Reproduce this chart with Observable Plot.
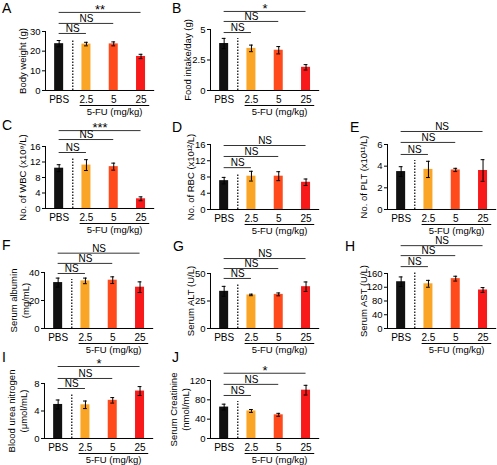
<!DOCTYPE html>
<html><head><meta charset="utf-8">
<script src="https://cdn.jsdelivr.net/npm/d3@7"></script>
<script src="https://cdn.jsdelivr.net/npm/@observablehq/plot@0.6"></script>
<style>
body{margin:0;background:#fff;}
#chart{position:relative;width:497px;height:465px;overflow:hidden;font-family:"Liberation Sans",Arial,sans-serif;background:#fff;}
#chart svg{position:absolute;}
.letter{position:absolute;font-size:14px;line-height:14px;color:#000;}
</style></head><body><div id="chart"></div>
<script>
// ---- data ----
const groups = ["PBS", "2.5", "5", "25"];
const doseLabel = "5-FU (mg/kg)";

const bodyWeight = [23.8, 23.6, 23.7, 17.3];
const bodyWeightErr = [1.6, 0.9, 1.0, 1.1];
const foodIntake = [3.85, 3.45, 3.3, 1.9];
const foodIntakeErr = [0.42, 0.27, 0.3, 0.22];
const wbc = [10.4, 11.2, 10.8, 2.5];
const wbcErr = [0.9, 1.4, 0.9, 0.5];
const rbc = [7.1, 8.2, 8.2, 6.7];
const rbcErr = [0.8, 1.2, 1.1, 0.8];
const plt = [3.5, 3.7, 3.65, 3.6];
const pltErr = [0.45, 0.75, 0.15, 1.0];
const albumin = [32.8, 34, 34.5, 29.5];
const albuminErr = [3.2, 2, 2.4, 3.8];
const alt = [33.8, 30.5, 31, 38];
const altErr = [4.5, 0.7, 1.3, 4.3];
const ast = [136, 130, 145, 112];
const astErr = [14, 10, 7, 7];
const bun = [4.95, 4.9, 5.55, 6.9];
const bunErr = [0.65, 0.55, 0.4, 0.65];
const creatinine = [65, 57, 49, 100];
const creatinineErr = [6, 3, 3, 10];

// significance labels (PBS vs 2.5, PBS vs 5, PBS vs 25) and bracket heights (y units)
const sigA = ["NS", "NS", "**"];   const sigLevelsA = [29, 34.1, 39.7];
const sigB = ["NS", "NS", "*"];    const sigLevelsB = [4.75, 5.66, 6.48];
const sigC = ["NS", "NS", "***"];  const sigLevelsC = [14.45, 17.8, 20.1];
const sigD = ["NS", "NS", "NS"];   const sigLevelsD = [10.3, 13.05, 15.75];
const sigE = ["NS", "NS", "NS"];   const sigLevelsE = [5.08, 6.19, 7.2];
const sigF = ["NS", "NS", "NS"];   const sigLevelsF = [39.3, 46.5, 53.8];
const sigG = ["NS", "NS", "NS"];   const sigLevelsG = [45.5, 54.5, 63.6];
const sigH = ["NS", "NS", "NS"];   const sigLevelsH = [180, 212, 241];
const sigI = ["NS", "NS", "*"];    const sigLevelsI = [7.27, 8.73, 10.47];
const sigJ = ["NS", "NS", "*"];    const sigLevelsJ = [89, 112, 135];

// y axis ticks
const ticksA = [0, 10, 20, 30];
const ticksB = [0, 2.5, 5];
const ticksC = [0, 4, 8, 12, 16];
const ticksD = [0, 4, 8, 12, 16];
const ticksE = [0, 2, 4, 6];
const ticksF = [0, 20, 40];
const ticksG = [0, 25, 50];
const ticksH = [0, 40, 80, 120, 160];
const ticksI = [0, 4, 8];
const ticksJ = [0, 40, 80, 120];

// ---- styles / layout ----
const colors = ["#111111", "#fba526", "#ff4a1c", "#f81a1a"];
const FONT = "Liberation Sans, Arial, sans-serif";

const panels = [
  {id: "A", values: bodyWeight, errors: bodyWeightErr, sig: sigA, levels: sigLevelsA, ticks: ticksA,
   label: "Body weight (g)", ax: 45, base: 90, top: 31, labelDx: -23, letter: [2, 1]},
  {id: "B", values: foodIntake, errors: foodIntakeErr, sig: sigB, levels: sigLevelsB, ticks: ticksB,
   label: "Food intake/day (g)", ax: 210, base: 90, top: 29, labelDx: -23, letter: [172, 1]},
  {id: "C", values: wbc, errors: wbcErr, sig: sigC, levels: sigLevelsC, ticks: ticksC,
   label: "No. of WBC (x10\u2079/L)", ax: 45, base: 208, top: 146, labelDx: -23, letter: [2, 118]},
  {id: "D", values: rbc, errors: rbcErr, sig: sigD, levels: sigLevelsD, ticks: ticksD,
   label: "No. of RBC (x10\u00b9\u00b2/L)", ax: 210, base: 209, top: 144, labelDx: -20, letter: [172, 120]},
  {id: "E", values: plt, errors: pltErr, sig: sigE, levels: sigLevelsE, ticks: ticksE,
   label: "No. of PLT (x10\u00b9\u00b9/L)", ax: 387, base: 209, top: 144, labelDx: -24, letter: [350, 120]},
  {id: "F", values: albumin, errors: albuminErr, sig: sigF, levels: sigLevelsF, ticks: ticksF,
   label: "Serum albumin\n(mg/mL)", ax: 44, base: 328, top: 272, labelDx: -25, letter: [2, 238]},
  {id: "G", values: alt, errors: altErr, sig: sigG, levels: sigLevelsG, ticks: ticksG,
   label: "Serum ALT (U/L)", ax: 210, base: 328, top: 273, labelDx: -20, letter: [173, 239]},
  {id: "H", values: ast, errors: astErr, sig: sigH, levels: sigLevelsH, ticks: ticksH,
   label: "Serum AST (U/L)", ax: 387, base: 328, top: 273, labelDx: -24, letter: [345, 239]},
  {id: "I", values: bun, errors: bunErr, sig: sigI, levels: sigLevelsI, ticks: ticksI,
   label: "Blood urea nitrogen\n(\u03bcmol/mL)", ax: 44, base: 438, top: 383, labelDx: -27, letter: [2, 350]},
  {id: "J", values: creatinine, errors: creatinineErr, sig: sigJ, levels: sigLevelsJ, ticks: ticksJ,
   label: "Serum Creatinine\n(nmol/mL)", ax: 210, base: 438, top: 380, labelDx: -31, letter: [172, 350]}
];

const chart = document.getElementById("chart");
const ML = 48, MR = 4, MT = 50, MB = 34, STEP = 27.3;

for (const p of panels) {
  const fw = STEP * groups.length;
  const fh = p.base - p.top;
  const ymax = p.ticks[p.ticks.length - 1];
  const rows = groups.map((g, i) => ({i, g, v: p.values[i], e: p.errors[i]}));
  const sig = p.sig.map((s, k) => ({target: k + 1, label: s, level: p.levels[k]}));
  const pxPer = fh / ymax;
  const dotTop = p.levels[0] - 6 / pxPer;
  const isStar = d => d.label.startsWith("*");

  const svg = Plot.plot({
    width: ML + fw + MR, height: MT + fh + MB,
    marginLeft: ML, marginRight: MR, marginTop: MT, marginBottom: MB,
    x: {domain: [-0.5, groups.length - 0.5]},
    y: {domain: [0, ymax]},
    color: {type: "identity"},
    style: {fontFamily: FONT, background: "transparent", overflow: "visible", fontSize: "10px", color: "#000"},
    marks: [
      Plot.rect(rows, {x1: d => d.i - 0.165, x2: d => d.i + 0.165, y1: () => 0, y2: "v", fill: d => colors[d.i]}),
      Plot.ruleX(rows, {x: "i", y1: d => d.v - d.e, y2: d => d.v + d.e, stroke: "#000"}),
      Plot.ruleY(rows, {y: d => d.v + d.e, x1: d => d.i - 0.07, x2: d => d.i + 0.07, stroke: "#000"}),
      Plot.ruleY(rows, {y: d => d.v - d.e, x1: d => d.i - 0.07, x2: d => d.i + 0.07, stroke: "#000"}),
      Plot.ruleX([0.5], {y1: () => 0, y2: () => dotTop, stroke: "#000", strokeWidth: 1.2, strokeDasharray: "1.5,1.5"}),
      Plot.ruleY([0], {stroke: "#000"}),
      Plot.ruleX([-0.5], {y1: () => 0, y2: () => ymax, stroke: "#000"}),
      Plot.axisY({ticks: p.ticks, tickFormat: d => String(d), tickSize: 3, tickPadding: 2, fontSize: 9.5, label: null}),
      Plot.axisX({ticks: groups.map((g, i) => i), tickFormat: i => groups[i], tickSize: 0, tickPadding: 5, fontSize: 10, label: null}),
      Plot.ruleY(sig, {y: "level", x1: () => 0, x2: "target", stroke: "#333"}),
      Plot.text(sig.filter(d => !isStar(d)), {x: d => d.target / 2, y: "level", text: "label", dy: -4.5, fontSize: 10}),
      Plot.text(sig.filter(isStar), {x: d => d.target / 2, y: "level", text: "label", dy: -2.5, fontSize: 13}),
      Plot.link([doseLabel], {x1: () => 0.75, x2: () => 3.3, y1: () => 0, y2: () => 0, dy: 15, stroke: "#000"}),
      Plot.text([doseLabel], {x: () => 2.03, y: () => 0, text: d => d, dy: 21, fontSize: 9.5}),
      Plot.text([p.label], {frameAnchor: "left", textAnchor: "middle", lineAnchor: "middle", rotate: -90, dx: p.labelDx, text: d => d, fontSize: 9.5, lineHeight: 1.26})
    ]
  });
  svg.style.left = (p.ax - ML) + "px";
  svg.style.top = (p.top - MT) + "px";
  chart.appendChild(svg);

  const letter = document.createElement("div");
  letter.className = "letter";
  letter.textContent = p.id;
  letter.style.left = p.letter[0] + "px";
  letter.style.top = p.letter[1] + "px";
  chart.appendChild(letter);
}
</script></body></html>
